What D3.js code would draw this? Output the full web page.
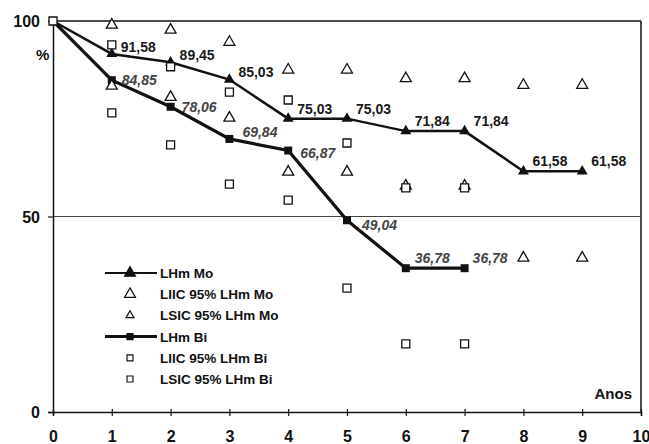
<!DOCTYPE html>
<html>
<head>
<meta charset="utf-8">
<script src="https://cdn.jsdelivr.net/npm/d3@7"></script>
<style>
  body { margin: 0; background: #fff; }
  svg { font-family: "Liberation Sans", Arial, sans-serif; }
</style>
</head>
<body>
<div id="chart"></div>
<script>
// values
const anos = [0, 1, 2, 3, 4, 5, 6, 7, 8, 9]
const lhmMo = [100, 91.58, 89.45, 85.03, 75.03, 75.03, 71.84, 71.84, 61.58, 61.58]
const liicMo = [100, 83.4, 80.5, 75.2, 61.4, 61.4, 57.8, 57.8, 39.4, 39.4]
const lsicMo = [100, 99.0, 97.7, 94.6, 87.5, 87.5, 85.3, 85.3, 83.6, 83.6]
const anosBi = [0, 1, 2, 3, 4, 5, 6, 7]
const lhmBi = [100, 84.85, 78.06, 69.84, 66.87, 49.04, 36.78, 36.78]
const liicBi = [100, 76.5, 68.3, 58.3, 54.2, 31.7, 17.4, 17.4]
const lsicBi = [100, 93.9, 88.3, 81.8, 79.8, 68.8, 57.3, 57.3]
const xTicks = [0, 1, 2, 3, 4, 5, 6, 7, 8, 9, 10]
const yTicks = [0, 50, 100]
const legendLabels = ["LHm Mo", "LIIC 95% LHm Mo", "LSIC 95% LHm Mo", "LHm Bi", "LIIC 95% LHm Bi", "LSIC 95% LHm Bi"]

const fmt = v => d3.format(".2f")(v).replace(".", ",")

const W = 649, H = 444
const svg = d3.select("#chart").append("svg").attr("width", W).attr("height", H)

const x = d3.scaleLinear().domain([0, 10]).range([53, 641])
const y = d3.scaleLinear().domain([0, 100]).range([412, 21])

// frame + 50 line
svg.append("line").attr("x1", x(0)).attr("x2", x(10)).attr("y1", y(100)).attr("y2", y(100))
  .attr("stroke", "#111").attr("stroke-width", 1.5)
svg.append("line").attr("x1", x(10)).attr("x2", x(10)).attr("y1", y(100)).attr("y2", y(0))
  .attr("stroke", "#111").attr("stroke-width", 1.5)
svg.append("line").attr("x1", x(0)).attr("x2", x(10)).attr("y1", y(50)).attr("y2", y(50))
  .attr("stroke", "#444").attr("stroke-width", 1)

// axes
const xAxis = svg.append("g").attr("transform", `translate(0,${y(0)})`)
  .call(d3.axisBottom(x).tickValues(xTicks).tickSize(4).tickFormat(d3.format("d")))
xAxis.select(".domain").attr("stroke", "#111").attr("stroke-width", 1.5)
xAxis.selectAll(".tick line").attr("y1", -3).attr("stroke", "#111").attr("stroke-width", 1.2)
xAxis.selectAll(".tick text").attr("y", 30).attr("dy", 0)
  .attr("font-size", 16).attr("font-weight", "bold").attr("fill", "#111")

const yAxis = svg.append("g").attr("transform", `translate(${x(0)},0)`)
  .call(d3.axisLeft(y).tickValues(yTicks).tickSize(5).tickPadding(8))
yAxis.select(".domain").attr("stroke", "#111").attr("stroke-width", 1.5)
yAxis.selectAll(".tick line").attr("stroke", "#111").attr("stroke-width", 1.2)
yAxis.selectAll(".tick text").attr("font-size", 16).attr("font-weight", "bold").attr("fill", "#111")
  .attr("dy", "0.36em")

svg.append("text").attr("x", 36).attr("y", 60).text("%")
  .attr("font-size", 15).attr("font-weight", "bold").attr("fill", "#111")
svg.append("text").attr("x", 632).attr("y", 399).attr("text-anchor", "end").text("Anos")
  .attr("font-size", 15).attr("font-weight", "bold").attr("fill", "#111")

// symbols
const triBig = d3.symbol().type(d3.symbolTriangle).size(52)
const triSmall = d3.symbol().type(d3.symbolTriangle).size(28)
const sq = d3.symbol().type(d3.symbolSquare).size(64)
const sqSmall = d3.symbol().type(d3.symbolSquare).size(36)

function openMarks(xs, ys, sym, cls) {
  svg.append("g").attr("class", cls).selectAll("path")
    .data(ys.map((v, i) => [xs[i], v]).filter(d => d[0] > 0))
    .join("path")
    .attr("transform", d => `translate(${x(d[0])},${y(d[1])})`)
    .attr("d", sym)
    .attr("fill", "#fff").attr("stroke", "#111").attr("stroke-width", 1.3)
}

function survLine(xs, ys, width, sym, cls) {
  const pts = ys.map((v, i) => [xs[i], v])
  const g = svg.append("g").attr("class", cls)
  g.append("path").datum(pts)
    .attr("d", d3.line().x(d => x(d[0])).y(d => y(d[1])))
    .attr("fill", "none").attr("stroke", "#111").attr("stroke-width", width)
  g.selectAll("path.m").data(pts.filter(d => d[0] > 0)).join("path").attr("class", "m")
    .attr("transform", d => `translate(${x(d[0])},${y(d[1])})`)
    .attr("d", sym).attr("fill", "#111")
  return pts
}

const moPts = survLine(anos, lhmMo, 2.5, triBig, "mo")
const biPts = survLine(anosBi, lhmBi, 3.2, sq, "bi")

openMarks(anos, lsicMo, triBig, "lsic-mo")
openMarks(anos, liicMo, triBig, "liic-mo")
openMarks(anosBi, lsicBi, sq, "lsic-bi")
openMarks(anosBi, liicBi, sq, "liic-bi")

// start point
svg.append("path").attr("transform", `translate(${x(0)},${y(100)})`).attr("d", sq)
  .attr("fill", "#fff").attr("stroke", "#111").attr("stroke-width", 1.3)

// value labels
const moDy = [0, -2, -2, -3, -5, -5, -5, -5, -5, -5]
svg.append("g").selectAll("text").data(moPts.filter(d => d[0] > 0)).join("text")
  .attr("x", d => x(d[0]) + 9).attr("y", d => y(d[1]) + moDy[d[0]])
  .text(d => fmt(d[1]))
  .attr("font-size", 14).attr("font-weight", "bold").attr("fill", "#1a1a1a")

const biDy = [0, 5, 5, -2, 7, 10, -5, -5]
const biDx = [0, 10, 11, 13, 12, 15, 9, 8]
svg.append("g").selectAll("text").data(biPts.filter(d => d[0] > 0)).join("text")
  .attr("x", d => x(d[0]) + biDx[d[0]]).attr("y", d => y(d[1]) + biDy[d[0]])
  .text(d => fmt(d[1]))
  .attr("font-size", 14).attr("font-weight", "bold").attr("font-style", "italic").attr("fill", "#444")

// legend
const leg = svg.append("g").attr("class", "legend")
const rowY = i => 273 + i * 21.2
const legSyms = [triBig, triBig, triSmall, sqSmall, sqSmall, sqSmall]
legendLabels.forEach((lab, i) => {
  const cy = rowY(i)
  if (i === 0 || i === 3) {
    leg.append("line").attr("x1", 105).attr("x2", 157).attr("y1", cy).attr("y2", cy)
      .attr("stroke", "#111").attr("stroke-width", i === 0 ? 1.8 : 3)
  }
  leg.append("path").attr("transform", `translate(130,${cy})`).attr("d", legSyms[i])
    .attr("fill", (i === 0 || i === 3) ? "#111" : "#fff")
    .attr("stroke", "#111").attr("stroke-width", 1.2)
  leg.append("text").attr("x", 160).attr("y", cy + 5).text(lab)
    .attr("font-size", 13.5).attr("font-weight", "bold").attr("fill", "#111")
})
</script>
</body>
</html>
